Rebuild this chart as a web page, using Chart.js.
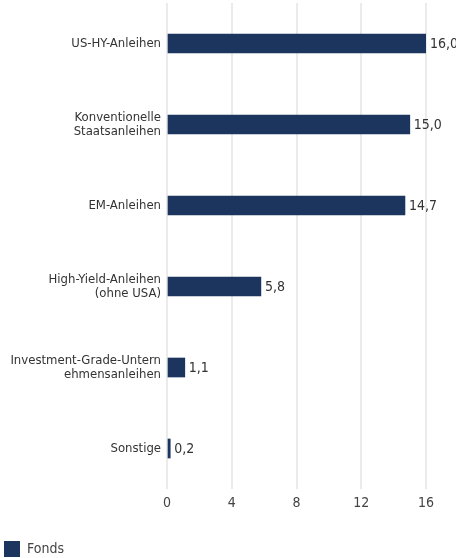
<!DOCTYPE html>
<html>
<head>
<meta charset="utf-8">
<script src="https://cdn.jsdelivr.net/npm/chart.js@4"></script>
<style>
  body { margin: 0; background: #fff; overflow: hidden; }
  #wrap { width: 456px; height: 567px; position: relative; }
</style>
</head>
<body>
<div id="wrap"><canvas id="myChart"></canvas></div>
<script>
'use strict';

// donnees
let categories = [
  "US-HY-Anleihen",
  ["Konventionelle", "Staatsanleihen"],
  "EM-Anleihen",
  ["High-Yield-Anleihen", "(ohne USA)"],
  ["Investment-Grade-Untern", "ehmensanleihen"],
  "Sonstige"
];
let fondsValues = [16.0, 15.0, 14.7, 5.8, 1.1, 0.2];
let xTicks = [0, 4, 8, 12, 16];
let seriesName = "Fonds";

let fontName = "'Liberation Sans Narrow', 'DejaVu Sans Condensed', sans-serif";
let barColor = "#1b355e";

// etiquettes de valeur au bout des barres
let valueLabels = {
  id: "valueLabels",
  afterDatasetsDraw(chart) {
    let ctx = chart.ctx;
    let meta = chart.getDatasetMeta(0);
    ctx.save();
    ctx.font = "14px " + fontName;
    ctx.fillStyle = "#333";
    ctx.textBaseline = "middle";
    ctx.textAlign = "left";
    meta.data.forEach(function (bar, i) {
      let txt = fondsValues[i].toFixed(1).replace(".", ",");
      ctx.fillText(txt, bar.x + 4, bar.y + 1);
    });
    ctx.restore();
  }
};

new Chart("myChart", {
  type: "bar",
  data: {
    labels: categories,
    datasets: [{
      label: seriesName,
      data: fondsValues,
      backgroundColor: barColor,
      barThickness: 19
    }]
  },
  plugins: [valueLabels],
  options: {
    indexAxis: "y",
    responsive: true,
    maintainAspectRatio: false,
    animation: false,
    layout: { padding: { top: 3, right: 30, left: 0, bottom: 0 } },
    scales: {
      x: {
        min: 0,
        max: 16,
        afterBuildTicks(scale) {
          scale.ticks = xTicks.map(v => ({ value: v }));
        },
        afterFit(scale) { scale.height = 48; },
        grid: { color: "#ebebeb", lineWidth: 2, drawTicks: false },
        border: { display: false },
        ticks: {
          color: "#444",
          padding: 6,
          font: { family: fontName, size: 14 }
        }
      },
      y: {
        afterFit(scale) {
          scale.width = 167;
          scale.paddingTop = 0;
          scale.paddingBottom = 0;
        },
        grid: { display: false, drawTicks: false },
        border: { display: false },
        ticks: {
          color: "#333",
          padding: 6,
          font: { family: fontName, size: 13, lineHeight: 1.1 }
        }
      }
    },
    plugins: {
      legend: {
        position: "bottom",
        align: "start",
        labels: {
          boxWidth: 16,
          boxHeight: 16,
          color: "#444",
          padding: 4,
          font: { family: fontName, size: 14 }
        }
      },
      tooltip: { enabled: false }
    }
  }
});
</script>
</body>
</html>
